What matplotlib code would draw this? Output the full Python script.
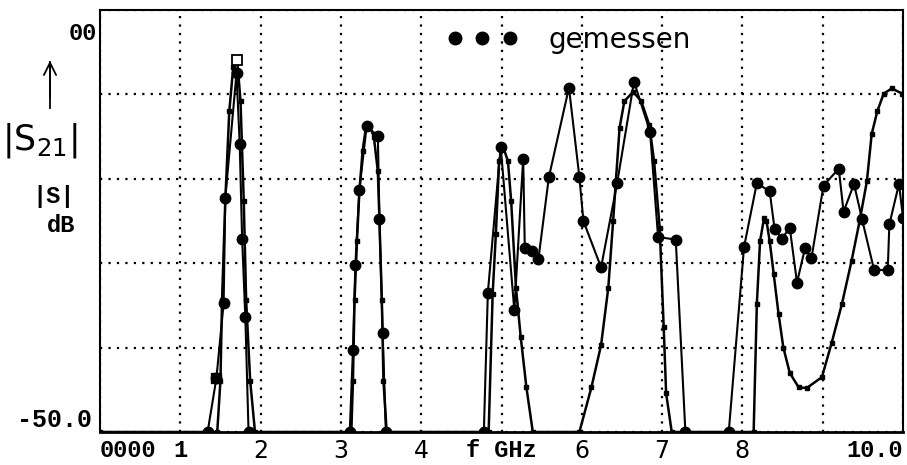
import matplotlib
matplotlib.use("Agg")
import matplotlib.pyplot as plt
from matplotlib.lines import Line2D

# measured |S21| (big dots), frequency in GHz, level in dB
f_meas = [1.34, 1.45, 1.54, 1.56, 1.70, 1.74, 1.77, 1.81, 1.85,
          3.11, 3.15, 3.18, 3.23, 3.32, 3.46, 3.48, 3.52, 3.56,
          4.78, 4.83, 4.99, 5.16, 5.27, 5.29, 5.38, 5.46, 5.59, 5.84,
          5.97, 6.02, 6.24, 6.44, 6.65, 6.85, 6.95, 7.17, 7.29,
          7.83, 8.02, 8.18, 8.34, 8.40, 8.49, 8.59, 8.68, 8.78, 8.86,
          9.01, 9.20, 9.26, 9.39, 9.49, 9.64, 9.81, 9.83, 9.95, 10.0]
s_meas = [-50, -43.6, -34.7, -22.3, -7.5, -15.9, -27.1, -36.4, -50,
          -50, -40.3, -30.2, -21.3, -13.8, -14.9, -24.8, -38.3, -50,
          -50, -33.5, -16.2, -35.6, -17.6, -28.2, -28.5, -29.5, -19.8, -9.2,
          -19.8, -25.0, -30.5, -20.5, -8.5, -14.4, -26.9, -27.2, -50,
          -50, -28.1, -20.5, -21.5, -25.9, -27.1, -25.8, -32.3, -28.2, -29.4,
          -20.8, -18.8, -23.9, -20.6, -24.8, -30.8, -30.8, -25.4, -20.6, -24.6]

# computed curve (line with small dots)
f_sim = [0.0, 1.46, 1.50, 1.52, 1.56, 1.61, 1.66, 1.71, 1.75, 1.79, 1.82, 1.87, 1.93,
         3.13, 3.15, 3.17, 3.20, 3.23, 3.27, 3.31, 3.36, 3.41, 3.46, 3.48, 3.51, 3.53, 3.57,
         4.84, 4.89, 4.93, 4.97, 5.02, 5.08, 5.12, 5.18, 5.24, 5.31, 5.39,
         5.97, 6.12, 6.24, 6.33, 6.39, 6.47, 6.53, 6.64, 6.74, 6.84, 6.90, 6.97,
         7.02, 7.05, 7.12,
         8.14, 8.18, 8.22, 8.27, 8.30, 8.34, 8.39, 8.45, 8.51, 8.59, 8.70, 8.80,
         8.99, 9.11, 9.24, 9.36, 9.46, 9.55, 9.61, 9.68, 9.76, 9.86, 9.99, 10.0]
s_sim = [-50, -50, -43.9, -34.4, -22.6, -12.0, -6.7, -6.1, -10.8, -22.6, -34.4, -43.9, -50,
         -50, -43.9, -34.4, -27.4, -21.5, -16.7, -14.0, -13.8, -15.0, -19.1, -25.0, -34.4, -43.9, -50,
         -50, -33.6, -26.5, -17.9, -16.2, -17.9, -22.6, -32.9, -38.8, -44.7, -50,
         -50, -44.7, -39.7, -32.9, -25.0, -14.0, -10.8, -9.7, -10.8, -13.6, -17.9, -25.8,
         -37.6, -45.4, -50,
         -50, -34.8, -27.4, -24.6, -25.0, -27.4, -31.3, -36.0, -40.0, -43.0, -44.7, -44.8,
         -43.5, -39.5, -34.8, -29.7, -25.0, -20.3, -14.7, -12.0, -9.9, -9.3, -9.9, -10.0]

# square markers
f_sq_filled, s_sq_filled = [1.45], [-43.6]
f_sq_open, s_sq_open = [1.71], [-5.9]

x_ticks = [0, 1, 2, 3, 4, 5, 6, 7, 8, 9, 10]
x_labels = ["0000", "1", "2", "3", "4", "f GHz", "6", "7", "8", "", "10.0"]
hand_labels = ["2", "3", "4", "6", "7", "8"]
y_ticks = [-50, -40, -30, -20, -10, 0]
y_labels = ["-50.0", "", "", "", "", ""]

mono = "Liberation Mono"

fig = plt.figure(figsize=(9.07, 4.65), dpi=100)
ax = fig.add_axes([100 / 907, 33 / 465, 803 / 907, 422 / 465])

ax.plot(f_sim, s_sim, color="k", lw=1.8, marker="s", ms=2.2, zorder=3)
ax.plot(f_meas, s_meas, color="k", lw=1.5, marker="o", ms=7.5, zorder=4)
ax.plot(f_sq_filled, s_sq_filled, ls="none", marker="s", ms=7, color="k", zorder=5)
ax.plot(f_sq_open, s_sq_open, ls="none", marker="s", ms=7, mfc="white",
        mec="k", mew=1.3, zorder=5)

ax.set_xlim(0, 10)
ax.set_ylim(-50, 0)
ax.set_xticks(x_ticks)
ax.set_xticklabels(x_labels)
ax.set_yticks(y_ticks)
ax.set_yticklabels(y_labels)
ax.tick_params(length=0)
ax.tick_params(axis="x", pad=5)
ax.tick_params(axis="y", pad=6)

for lab in ax.get_xticklabels():
    t = lab.get_text()
    if t in hand_labels:
        lab.set_fontfamily("DejaVu Sans")
        lab.set_fontsize(17)
    else:
        lab.set_fontfamily(mono)
        lab.set_fontweight("bold")
        lab.set_fontsize(17)
    if t == "0000":
        lab.set_horizontalalignment("left")
    if t == "10.0":
        lab.set_horizontalalignment("right")

for lab in ax.get_yticklabels():
    lab.set_fontfamily(mono)
    lab.set_fontweight("bold")
    lab.set_fontsize(18)
    lab.set_verticalalignment("bottom")

ax.grid(True, color="k", lw=1.6, linestyle=(0, (1, 2.8)))
for sp in ax.spines.values():
    sp.set_linewidth(1.5)
ax.spines["bottom"].set_linewidth(2.0)

# legend: three dots + "gemessen"
h = Line2D([], [], ls="none", marker="o", ms=9, color="k")
leg = ax.legend([h], ["gemessen"], numpoints=3, frameon=False,
                loc="center left", bbox_to_anchor=(0.40, 0.93),
                handlelength=2.6, handletextpad=1.1,
                prop={"family": "DejaVu Sans", "size": 20})

# y-axis annotation on the left
fig.text(97 / 907, 1 - 33 / 465, "00", fontfamily=mono, fontweight="bold",
         fontsize=17, ha="right", va="center")
fig.text(40 / 907, 1 - 140 / 465, r"$|\mathrm{S}_{21}|$", fontsize=25,
         ha="center", va="center")
fig.text(54 / 907, 1 - 196 / 465, "|S|", fontfamily=mono, fontweight="bold",
         fontsize=17, ha="center", va="center")
fig.text(61 / 907, 1 - 225 / 465, "dB", fontfamily=mono, fontweight="bold",
         fontsize=17, ha="center", va="center")
fig.add_artist(plt.Line2D([50 / 907, 50 / 907], [1 - 108 / 465, 1 - 62 / 465],
                          color="k", lw=1.3))
ax.annotate("", xy=(50 / 907, 1 - 58 / 465), xytext=(50 / 907, 1 - 100 / 465),
            xycoords="figure fraction", textcoords="figure fraction",
            arrowprops=dict(arrowstyle="->", color="k", lw=1.3,
                            mutation_scale=22))

fig.savefig("out.png", dpi=100)
